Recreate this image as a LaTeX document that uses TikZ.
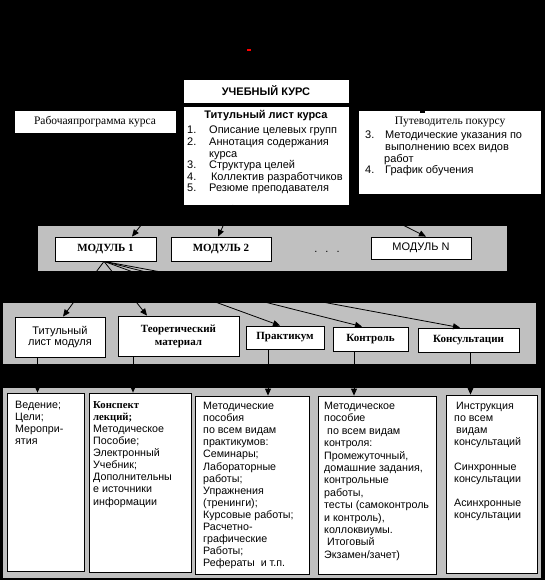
\documentclass[tikz,border=0pt]{standalone}
\usepackage{fontspec}
\setmainfont{Liberation Serif}
\setsansfont{Liberation Sans}
\usetikzlibrary{arrows.meta}
\definecolor{silver}{HTML}{C0C0C0}
\newcommand{\numbx}[2][22pt]{\makebox[#1][l]{#2}}
\begin{document}
\begin{tikzpicture}[x=1pt,y=-1pt,
  wbox/.style={draw=black, line width=0.8pt, fill=white, inner sep=0pt},
  band/.style={fill=silver, draw=none, inner sep=0pt},
  arr/.style={draw=black, line width=0.8pt, -{Triangle[length=7pt,width=6pt]}},
  sfont/.style={font=\sffamily\fontsize{11}{11.6}\selectfont},
  sbold/.style={font=\sffamily\bfseries\fontsize{11}{13}\selectfont},
  rfont/.style={font=\rmfamily\fontsize{11.5}{13}\selectfont},
  rbold/.style={font=\rmfamily\bfseries\fontsize{11}{13}\selectfont},
  ltxt/.style={sfont, inner sep=0pt, align=left, anchor=north west},
  btxt/.style={font=\sffamily\fontsize{10.7}{12.1}\selectfont, inner sep=0pt, align=left, anchor=north west},
]
\useasboundingbox (0,0) rectangle (545,580);
\fill[black] (0,0) rectangle (545,580);
\fill[red] (247,49) rectangle (251,51);

% top row
\node[wbox, minimum width=166, minimum height=24, sbold] (u) at (266,91) {УЧЕБНЫЙ КУРС};
\node[wbox, minimum width=166, minimum height=99] (k) at (266,155.5) {};
\node[sbold, inner sep=0pt] (kt) at (266,116) {Титульный лист курса};
\node[ltxt] (kl) at (187,126) {\numbx{1.}Описание целевых групп\\
  \numbx{2.}Аннотация содержания\\
  \numbx{}курса\\
  \numbx{3.}Структура целей\\
  \numbx{4.}\,Коллектив разработчиков\\
  \numbx{5.}Резюме преподавателя};

\node[wbox, minimum width=162, minimum height=23, rfont] (r) at (95,121.5) {Рабочаяпрограмма курса};

\node[wbox, minimum width=183, minimum height=84] (p) at (449.5,152) {};
\fill[black] (420,110) rectangle (425,113);
\node[rfont, inner sep=0pt] (pt) at (450,122) {Путеводитель покурсу};
\node[ltxt] (pl) at (365,131) {\numbx[20pt]{3.}Методические указания по\\
  \numbx[20pt]{}выполнению всех видов\\
  \numbx[19pt]{}работ\\
  \numbx[20pt]{4.}График обучения};

% band 1
\node[band, minimum width=469, minimum height=45] (g1) at (272.5,248.5) {};
\node[wbox, minimum width=101, minimum height=24, rbold] (m1) at (105.5,249) {МОДУЛЬ 1};
\node[wbox, minimum width=100, minimum height=24, rbold] (m2) at (221,249) {МОДУЛЬ 2};
\node[sfont, inner sep=0pt] (dots) at (327,252) {.\hspace{8pt}.\hspace{8pt}.};
\node[wbox, minimum width=100, minimum height=22, sfont] (mN) at (421,248) {МОДУЛЬ N};

\coordinate (s1) at (157,205);
\coordinate (s2) at (233,205);
\coordinate (sN) at (363,205);
\draw[arr] (s1) -- ([xshift=26.5pt]m1.north);
\draw[arr] (s2) -- ([xshift=-3pt]m2.north);
\draw[arr] (sN) -- ([xshift=5pt]mN.north);

% band 2
\node[band, minimum width=533, minimum height=61] (g2) at (269.5,333.5) {};
\node[wbox, minimum width=90, minimum height=40, sfont, align=center] (t1) at (60,337) {Титульный\\лист модуля};
\node[wbox, minimum width=121, minimum height=40, rbold, align=center] (t2) at (178.5,336) {Теоретический\\материал};
\node[wbox, minimum width=78, minimum height=23, rbold] (t3) at (285,337.5) {Практикум};
\node[wbox, minimum width=75, minimum height=24, rbold] (t4) at (370.5,339) {Контроль};
\node[wbox, minimum width=101, minimum height=24, rbold] (t5) at (468.5,340) {Консультации};

\draw[arr] ([xshift=-1.5pt]m1.south) -- ([xshift=3pt]t1.north);
\draw[arr] ([xshift=-1.5pt]m1.south) -- ([xshift=-31.5pt]t2.north);
\draw[arr] ([xshift=-1.5pt]m1.south) -- ([xshift=-5pt]t3.north);
\draw[arr] ([xshift=-1.5pt]m1.south) -- ([xshift=-8.5pt]t4.north);
\draw[arr] ([xshift=-1.5pt]m1.south) -- ([xshift=-8.5pt]t5.north);

% band 3
\node[band, minimum width=538, minimum height=190] (g3) at (272,483) {};
\node[wbox, minimum width=77, minimum height=178] (b1) at (45.5,482) {};
\node[wbox, minimum width=102, minimum height=179] (b2) at (140,482.5) {};
\node[wbox, minimum width=114, minimum height=178] (b3) at (252,485) {};
\node[wbox, minimum width=118, minimum height=178] (b4) at (377,485) {};
\node[wbox, minimum width=91, minimum height=178] (b5) at (491.5,484) {};

\draw[arr] ([xshift=-22.5pt]t1.south) -- ([xshift=-8pt]b1.north);
\draw[arr] ([xshift=-45.5pt]t2.south) -- ([xshift=-7pt]b2.north);
\draw[arr] ([xshift=-17pt]t3.south) -- ([xshift=16pt]b3.north);
\draw[arr] ([xshift=-16.5pt]t4.south) -- ([xshift=-23pt]b4.north);
\draw[arr] ([xshift=2pt]t5.south) -- ([xshift=-21pt]b5.north);

\node[btxt] (c1) at (15,401) {Ведение;\\Цели;\\Меропри-\\ятия};
\node[btxt] (c2) at (93,401) {{\rmfamily\bfseries Конспект}\\{\rmfamily\bfseries лекций;}\\Методическое\\Пособие;\\Электронный\\Учебник;\\Дополнительны\\е источники\\информации};
\node[btxt] (c3) at (203,402) {Методические\\пособия\\по всем видам\\практикумов:\\Семинары;\\Лабораторные\\работы;\\Упражнения\\(тренинги);\\Курсовые работы;\\Расчетно-\\графические\\Работы;\\Рефераты\ \ и т.п.};
\node[btxt, font=\sffamily\fontsize{10.7}{12.4}\selectfont] (c4) at (324,402) {Методическое\\пособие\\\hspace*{3pt}по всем видам\\контроля:\\Промежуточный,\\домашние задания,\\контрольные\\работы,\\тесты (самоконтроль\\и контроль),\\коллоквиумы.\\\hspace*{3pt}Итоговый\\Экзамен/зачет)};
\node[btxt] (c5) at (454,402) {\hspace*{2pt}Инструкция\\по всем\\\hspace*{2pt}видам\\консультаций\\[12.1pt]Синхронные\\консультации\\[12.1pt]Асинхронные\\консультации};
\end{tikzpicture}
\end{document}
